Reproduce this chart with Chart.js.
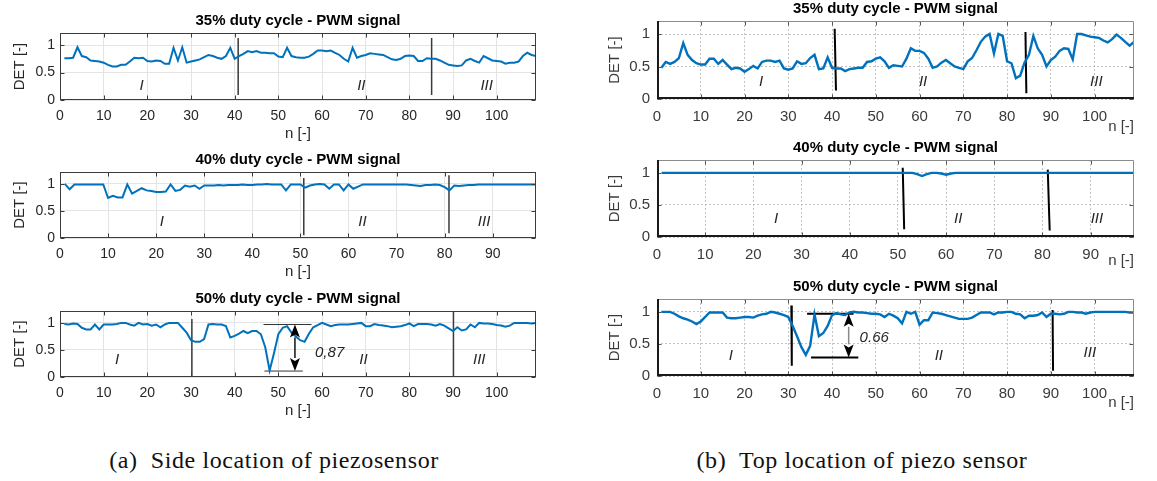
<!DOCTYPE html>
<html>
<head>
<meta charset="utf-8">
<script src="https://cdn.jsdelivr.net/npm/chart.js@4.4.0/dist/chart.umd.min.js"></script>
<style>
  body { margin: 0; background: #fff; width: 1157px; height: 481px; position: relative; overflow: hidden; }
  .panel { position: absolute; }
  .caption { position: absolute; top: 447px; width: 560px; text-align: center;
             font-family: "Liberation Serif", serif; font-size: 24px; letter-spacing: 0.6px; color: #111; }
</style>
</head>
<body>
<div class="caption" style="left:-6px">(a)&nbsp; Side location of piezosensor</div>
<div class="caption" style="left:582px">(b)&nbsp; Top location of piezo sensor</div>
<script>
// DET over n for three PWM duty cycles, side sensor (a) and top sensor (b).
var xTicksLong = [0, 10, 20, 30, 40, 50, 60, 70, 80, 90, 100];
var xTicksShort = [0, 10, 20, 30, 40, 50, 60, 70, 80, 90];
var yTicks = [0, 0.5, 1];

// series values, sample n = 1, 2, 3 ...
var side35 = [
  0.76, 0.76, 0.77, 0.96, 0.80, 0.78, 0.72, 0.71, 0.70, 0.68,
  0.64, 0.61, 0.61, 0.64, 0.64, 0.70, 0.77, 0.76, 0.77, 0.71,
  0.70, 0.72, 0.71, 0.66, 0.66, 0.95, 0.72, 0.96, 0.68, 0.70,
  0.72, 0.74, 0.78, 0.82, 0.80, 0.77, 0.75, 0.80, 0.95, 0.75,
  0.80, 0.84, 0.89, 0.87, 0.89, 0.86, 0.86, 0.85, 0.85, 0.79,
  0.78, 0.95, 0.80, 0.78, 0.77, 0.77, 0.79, 0.84, 0.90, 0.90,
  0.89, 0.90, 0.86, 0.82, 0.75, 0.70, 0.95, 0.77, 0.80, 0.82,
  0.85, 0.84, 0.83, 0.82, 0.78, 0.74, 0.73, 0.75, 0.80, 0.81,
  0.80, 0.71, 0.71, 0.76, 0.75, 0.75, 0.72, 0.68, 0.64, 0.63,
  0.62, 0.63, 0.72, 0.75, 0.71, 0.68, 0.80, 0.76, 0.72, 0.71,
  0.70, 0.66, 0.68, 0.68, 0.70, 0.80, 0.86, 0.82, 0.80
];
var side40 = [
  1.00, 0.90, 0.99, 0.99, 0.99, 0.99, 0.99, 0.99, 0.99, 0.74,
  0.78, 0.75, 0.75, 0.99, 0.82, 0.87, 0.92, 0.88, 0.87, 0.85,
  0.85, 0.86, 0.99, 0.87, 0.89, 0.97, 0.95, 0.97, 0.91, 0.97,
  0.97, 0.97, 0.98, 0.97, 0.98, 0.98, 0.98, 0.99, 0.98, 0.98,
  0.99, 0.99, 1.00, 0.99, 0.99, 0.99, 0.88, 0.99, 0.99, 0.99,
  0.93, 0.97, 0.99, 1.00, 0.99, 0.91, 0.99, 0.99, 0.88, 0.99,
  0.91, 0.95, 0.99, 0.99, 0.99, 0.99, 0.99, 0.99, 0.99, 0.99,
  0.99, 0.99, 0.98, 0.97, 0.96, 0.98, 0.98, 0.99, 0.98, 0.94,
  0.88, 0.97, 0.96, 0.97, 0.98, 0.98, 0.99, 0.99, 0.99, 0.99,
  0.99, 0.99, 0.99, 0.99, 0.99, 0.99, 0.99, 0.99, 0.99
];
var side50 = [
  0.98, 0.97, 0.99, 0.98, 0.91, 0.88, 0.88, 0.97, 0.88, 0.97,
  0.97, 0.97, 0.98, 1.00, 1.00, 0.97, 0.95, 1.00, 0.97, 0.98,
  0.95, 0.97, 0.92, 0.97, 1.00, 1.00, 1.00, 0.91, 0.82, 0.68,
  0.65, 0.65, 0.70, 0.97, 0.98, 0.97, 0.97, 0.94, 0.73, 0.76,
  0.80, 0.85, 0.81, 0.85, 0.85, 0.79, 0.55, 0.12, 0.44, 0.79,
  0.91, 0.94, 0.82, 0.75, 0.68, 0.65, 0.80, 0.92, 0.96, 1.00,
  0.97, 0.94, 0.96, 0.97, 0.97, 0.97, 0.98, 0.99, 1.00, 0.94,
  0.94, 0.98, 0.96, 0.95, 0.94, 0.92, 0.93, 0.94, 0.96, 0.99,
  0.94, 0.98, 0.98, 0.98, 0.97, 0.95, 0.98, 0.95, 0.90, 0.85,
  0.92, 0.86, 0.88, 0.97, 0.92, 1.00, 0.99, 0.99, 0.98, 0.96,
  0.95, 0.93, 0.95, 1.00, 1.00, 1.00, 1.00, 0.99, 1.00
];
var top35 = [
  0.48, 0.57, 0.54, 0.57, 0.63, 0.86, 0.68, 0.60, 0.55, 0.53,
  0.53, 0.62, 0.62, 0.54, 0.60, 0.53, 0.46, 0.48, 0.47, 0.42,
  0.46, 0.51, 0.47, 0.57, 0.59, 0.59, 0.57, 0.59, 0.47, 0.45,
  0.47, 0.58, 0.54, 0.55, 0.63, 0.68, 0.46, 0.47, 0.64, 0.48,
  0.47, 0.47, 0.43, 0.46, 0.47, 0.48, 0.48, 0.57, 0.58, 0.62,
  0.64, 0.58, 0.48, 0.52, 0.51, 0.50, 0.62, 0.78, 0.74, 0.74,
  0.71, 0.62, 0.48, 0.50, 0.56, 0.60, 0.55, 0.50, 0.48, 0.46,
  0.58, 0.63, 0.75, 0.88, 0.96, 1.00, 0.70, 1.00, 0.97, 0.58,
  0.55, 0.32, 0.36, 0.56, 0.68, 0.97, 0.78, 0.68, 0.50, 0.60,
  0.65, 0.74, 0.78, 0.77, 0.61, 1.00, 1.00, 0.98, 0.96, 0.95,
  0.94, 0.90, 0.87, 0.92, 0.99, 0.94, 0.88, 0.82, 0.88
];
var top40 = [
  1, 1, 1, 1, 1, 1, 1, 1, 1, 1,
  1, 1, 1, 1, 1, 1, 1, 1, 1, 1,
  1, 1, 1, 1, 1, 1, 1, 1, 1, 1,
  1, 1, 1, 1, 1, 1, 1, 1, 1, 1,
  1, 1, 1, 1, 1, 1, 1, 1, 1, 1,
  1, 1, 1, 0.98, 0.95, 0.98, 1, 1, 0.99, 0.97,
  0.99, 1, 1, 1, 1, 1, 1, 1, 1, 1,
  1, 1, 1, 1, 1, 1, 1, 1, 1, 1,
  1, 1, 1, 1, 1, 1, 1, 1, 1, 1,
  1, 1, 1, 1, 1, 1, 1, 1, 1
];
var top50 = [
  1.00, 1.00, 1.00, 0.97, 0.93, 0.90, 0.88, 0.85, 0.81, 0.85,
  0.92, 0.99, 0.99, 0.99, 0.99, 0.91, 0.90, 0.90, 0.91, 0.92,
  0.92, 0.91, 0.94, 0.96, 0.97, 1.00, 0.99, 0.97, 0.95, 0.92,
  0.78, 0.62, 0.45, 0.33, 0.47, 0.96, 0.62, 0.67, 0.78, 0.95,
  0.98, 0.96, 0.95, 0.99, 1.00, 0.99, 0.99, 0.98, 0.97, 0.97,
  0.96, 0.92, 0.97, 0.94, 0.90, 0.82, 1.00, 0.97, 1.00, 0.80,
  0.87, 0.87, 0.99, 0.98, 0.97, 0.95, 0.93, 0.91, 0.89, 0.89,
  0.89, 0.91, 0.95, 0.99, 0.99, 0.99, 0.96, 0.99, 0.99, 1.00,
  1.00, 0.97, 0.96, 0.90, 0.94, 0.94, 0.95, 0.99, 0.92, 0.97,
  0.97, 0.96, 0.97, 1.00, 1.00, 0.99, 0.99, 0.97, 0.99, 1.00,
  1.00, 1.00, 1.00, 1.00, 1.00, 1.00, 1.00, 0.99, 0.99
];

// region boundaries: [x top, y top, x bottom, y bottom]
var side35Bounds = [[40.8, 1.13, 40.8, 0.09], [85.1, 1.13, 85.1, 0.09]];
var side40Bounds = [[50.7, 1.11, 50.7, 0.05], [80.9, 1.16, 80.9, 0.09]];
var side50Bounds = [[30.2, 1.07, 30.2, 0], [90.1, 1.22, 90.1, 0]];
var top35Bounds = [[40.6, 1.08, 40.9, 0.13], [84.2, 1.03, 84.4, 0.09]];
var top40Bounds = [[51.0, 1.08, 51.3, 0.12], [81.1, 1.05, 81.5, 0.10]];
var top50Bounds = [[30.7, 1.10, 30.8, 0.16], [90.4, 1.03, 90.5, 0.08]];

// region labels: [text, x, y]
var side35Romans = [['I', 18.7, 0.26], ['II', 69, 0.26], ['III', 97.7, 0.26]];
var side40Romans = [['I', 21.2, 0.30], ['II', 62.9, 0.30], ['III', 88.2, 0.30]];
var side50Romans = [['I', 13.1, 0.32], ['II', 69.5, 0.32], ['III', 96, 0.32]];
var top35Romans = [['I', 23.8, 0.27], ['II', 60.8, 0.27], ['III', 100.4, 0.27]];
var top40Romans = [['I', 24.7, 0.29], ['II', 62.5, 0.29], ['III', 91.3, 0.29]];
var top50Romans = [['I', 16.9, 0.32], ['II', 64.4, 0.32], ['III', 98.9, 0.36]];

// drop annotations: arrow [x, y top, y bottom], level lines [x1, x2, y], label [text, x, y]
var side50Arrow = [53.8, 0.97, 0.11];
var side50Levels = [[46.6, 57.6, 0.97], [46.8, 55.6, 0.11]];
var side50Note = ['0,87', 58.4, 0.44];
var top50Arrow = [43.8, 0.97, 0.29];
var top50Levels = [[34.3, 44.9, 0.97], [35.2, 46.0, 0.29]];
var top50Note = ['0.66', 46.3, 0.59];

var BLUE = '#0072BD';
var SANS = '"Liberation Sans", Arial, sans-serif';

var panels = [
  { id: 'side35', matlab: true, rect: [60, 33, 536, 100], xMax: 109, yMax: 1.22, ticks: xTicksLong,
    title: '35% duty cycle - PWM signal', values: side35, bounds: side35Bounds, romans: side35Romans, xTitlePad: 2 },
  { id: 'side40', matlab: true, rect: [60, 172, 536, 238], xMax: 99, yMax: 1.22, ticks: xTicksShort,
    title: '40% duty cycle - PWM signal', values: side40, bounds: side40Bounds, romans: side40Romans, xTitlePad: 2 },
  { id: 'side50', matlab: true, rect: [60, 311, 536, 377], xMax: 109, yMax: 1.22, ticks: xTicksLong,
    title: '50% duty cycle - PWM signal', values: side50, bounds: side50Bounds, romans: side50Romans, xTitlePad: 2,
    arrow: side50Arrow, levels: side50Levels, note: side50Note },
  { id: 'top35', matlab: false, rect: [657, 21, 1134, 99], xMax: 109, yMax: 1.2, ticks: xTicksLong,
    title: '35% duty cycle - PWM signal', values: top35, bounds: top35Bounds, romans: top35Romans, xTitlePad: 8 },
  { id: 'top40', matlab: false, rect: [657, 160, 1134, 237], xMax: 99, yMax: 1.2, ticks: xTicksShort,
    title: '40% duty cycle - PWM signal', values: top40, bounds: top40Bounds, romans: top40Romans, xTitlePad: 12 },
  { id: 'top50', matlab: false, rect: [657, 299, 1134, 376], xMax: 109, yMax: 1.2, ticks: xTicksLong,
    title: '50% duty cycle - PWM signal', values: top50, bounds: top50Bounds, romans: top50Romans, xTitlePad: 9,
    arrow: top50Arrow, levels: top50Levels, note: top50Note }
];

function makeDecor(pn) {
  return {
    id: 'decor_' + pn.id,
    afterDatasetsDraw: function (chart) {
      var ctx = chart.ctx, a = chart.chartArea;
      var xs = chart.scales.x, ys = chart.scales.y;
      var L = a.left + 0.5, T = a.top + 0.5, R = a.right - 0.5, B = a.bottom - 0.5;
      var tl = 4;
      ctx.save();
      // inward tick marks on all four sides
      ctx.lineWidth = 1;
      ctx.strokeStyle = pn.matlab ? '#3c3c3c' : '#555';
      ctx.beginPath();
      pn.ticks.forEach(function (v) {
        var px = Math.round(xs.getPixelForValue(v)) + 0.5;
        ctx.moveTo(px, B); ctx.lineTo(px, B - tl);
        ctx.moveTo(px, T); ctx.lineTo(px, T + tl);
      });
      yTicks.forEach(function (v) {
        var py = Math.round(ys.getPixelForValue(v)) + 0.5;
        ctx.moveTo(L, py); ctx.lineTo(L + tl, py);
        ctx.moveTo(R, py); ctx.lineTo(R - tl, py);
      });
      ctx.stroke();
      // axes box
      if (pn.matlab) {
        ctx.strokeStyle = '#3c3c3c';
        ctx.strokeRect(L, T, R - L, B - T);
      } else {
        ctx.strokeStyle = '#8c8c8c';
        ctx.beginPath(); ctx.moveTo(L, T); ctx.lineTo(R, T); ctx.lineTo(R, B); ctx.stroke();
        ctx.strokeStyle = '#1a1a1a'; ctx.lineWidth = 2;
        ctx.beginPath(); ctx.moveTo(a.left + 1, a.top); ctx.lineTo(a.left + 1, a.bottom - 1); ctx.lineTo(a.right, a.bottom - 1); ctx.stroke();
      }
      // region numerals
      ctx.fillStyle = '#262626';
      ctx.font = 'italic 15px ' + SANS;
      ctx.textAlign = 'center'; ctx.textBaseline = 'middle';
      pn.romans.forEach(function (r) {
        ctx.fillText(r[0], xs.getPixelForValue(r[1]), ys.getPixelForValue(r[2]));
      });
      // double arrow for the drop
      if (pn.arrow) {
        var ax = xs.getPixelForValue(pn.arrow[0]);
        var y1 = ys.getPixelForValue(pn.arrow[1]), y2 = ys.getPixelForValue(pn.arrow[2]);
        var hl = 13, hw = 5;
        ctx.strokeStyle = pn.matlab ? '#111' : '#8a8a8a'; ctx.lineWidth = 1.5;
        ctx.beginPath(); ctx.moveTo(ax, y1 + hl); ctx.lineTo(ax, y2 - hl); ctx.stroke();
        ctx.fillStyle = '#000';
        ctx.beginPath(); ctx.moveTo(ax, y1); ctx.lineTo(ax - hw, y1 + hl); ctx.lineTo(ax, y1 + hl - 3); ctx.lineTo(ax + hw, y1 + hl); ctx.closePath(); ctx.fill();
        ctx.beginPath(); ctx.moveTo(ax, y2); ctx.lineTo(ax - hw, y2 - hl); ctx.lineTo(ax, y2 - hl + 3); ctx.lineTo(ax + hw, y2 - hl); ctx.closePath(); ctx.fill();
        ctx.fillStyle = '#262626';
        ctx.textAlign = 'left';
        ctx.fillText(pn.note[0], xs.getPixelForValue(pn.note[1]), ys.getPixelForValue(pn.note[2]));
      }
      ctx.restore();
    }
  };
}

panels.forEach(function (pn) {
  var L = pn.rect[0], T = pn.rect[1], R = pn.rect[2], B = pn.rect[3];
  var wrap = document.createElement('div');
  wrap.className = 'panel';
  wrap.style.left = (L - 60) + 'px';
  wrap.style.top = (T - 24) + 'px';
  var canvas = document.createElement('canvas');
  canvas.width = R - L + 80;
  canvas.height = B - T + 69;
  wrap.appendChild(canvas);
  document.body.appendChild(wrap);

  var textColor = pn.matlab ? '#262626' : '#3a3a3a';
  var datasets = [{
    data: pn.values.map(function (v, i) { return { x: i + 1, y: v }; }),
    borderColor: BLUE, borderWidth: pn.matlab ? 2 : 2.4, pointRadius: 0, tension: 0
  }];
  pn.bounds.forEach(function (b) {
    datasets.push({
      data: [{ x: b[0], y: b[1] }, { x: b[2], y: b[3] }],
      borderColor: pn.matlab ? '#3a3a3a' : '#000', borderWidth: pn.matlab ? 1.5 : 2, pointRadius: 0
    });
  });
  (pn.levels || []).forEach(function (h) {
    datasets.push({
      data: [{ x: h[0], y: h[2] }, { x: h[1], y: h[2] }],
      borderColor: pn.matlab ? '#333' : '#000', borderWidth: pn.matlab ? 1 : 2, pointRadius: 0
    });
  });

  new Chart(canvas, {
    type: 'line',
    data: { datasets: datasets },
    options: {
      responsive: false, animation: false, events: [],
      layout: { padding: { left: 0, right: 20, top: 0, bottom: 0 } },
      plugins: {
        legend: { display: false }, tooltip: { enabled: false },
        title: { display: true, fullSize: false, text: pn.title, color: '#000', padding: { top: 3, bottom: 3 },
                 font: { family: SANS, size: 15, weight: 'bold' } }
      },
      scales: {
        x: {
          type: 'linear', min: 0, max: pn.xMax,
          afterFit: function (s) { s.height = 45; },
          afterBuildTicks: function (s) { s.ticks = pn.ticks.map(function (v) { return { value: v }; }); },
          ticks: { color: textColor, padding: pn.matlab ? 8 : 9, maxRotation: 0, autoSkip: false,
                   callback: function (v) { return String(v); },
                   font: { family: SANS, size: pn.matlab ? 14 : 15 } },
          grid: { drawTicks: false, color: pn.matlab ? '#e4e4e4' : '#c4c4c4', lineWidth: 1 },
          border: { display: false, dash: pn.matlab ? [] : [2, 2] },
          title: { display: true, text: 'n [-]', color: textColor, align: pn.matlab ? 'center' : 'end',
                   padding: { top: 0, bottom: pn.xTitlePad },
                   font: { family: SANS, size: 15 } }
        },
        y: {
          type: 'linear', min: 0, max: pn.yMax,
          afterFit: function (s) { s.width = 60; },
          afterBuildTicks: function (s) { s.ticks = yTicks.map(function (v) { return { value: v }; }); },
          ticks: { color: textColor, padding: pn.matlab ? 5 : 7,
                   callback: function (v) { return String(v); },
                   font: { family: SANS, size: pn.matlab ? 14 : 15 } },
          grid: { drawTicks: false, color: pn.matlab ? '#e4e4e4' : '#c4c4c4', lineWidth: 1 },
          border: { display: false, dash: pn.matlab ? [] : [2, 2] },
          title: { display: true, text: 'DET [-]', color: textColor,
                   padding: { top: pn.matlab ? 11 : 9, bottom: 0 },
                   font: { family: SANS, size: 15 } }
        }
      }
    },
    plugins: [makeDecor(pn)]
  });
});
</script>
</body>
</html>
